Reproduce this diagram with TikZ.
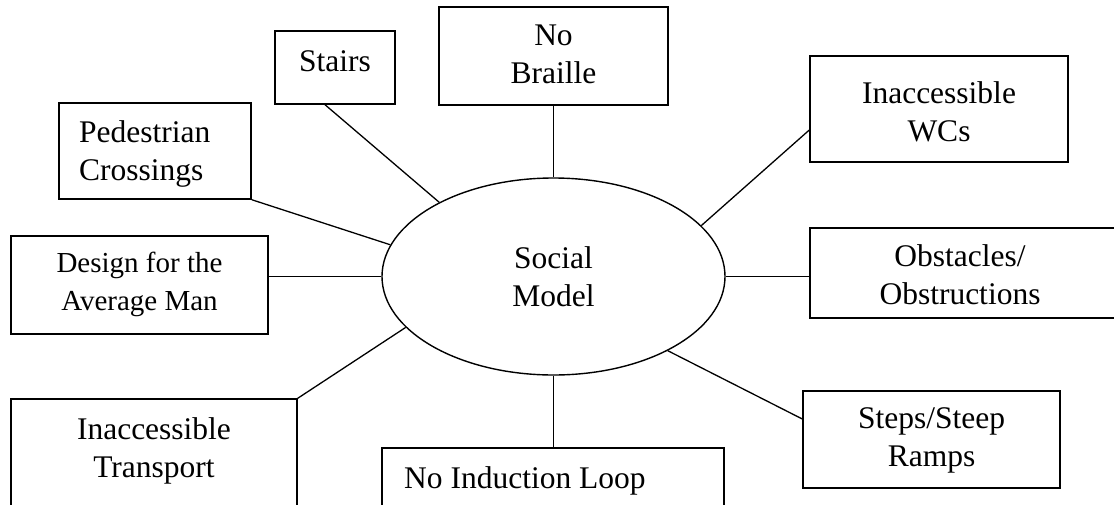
\documentclass[tikz,border=0pt]{standalone}
\usepackage{fontspec}
\setmainfont{Liberation Serif}
\usetikzlibrary{shapes.geometric,calc}
\begin{document}
\begin{tikzpicture}[x=1pt,y=-1pt,
  box/.style={draw, line width=1.4pt, inner sep=0pt},
  conn/.style={draw, line width=1.3pt},
  txt/.style={inner sep=0pt, font=\fontsize{31.5}{37.5}\selectfont, align=center, anchor=base},
  smalltxt/.style={txt, font=\fontsize{29}{38}\selectfont}]
\useasboundingbox (0,0) rectangle (1114,504);
\clip (0,0) rectangle (1114,504);
% central ellipse
\node[ellipse, draw, line width=1.4pt, minimum width=343pt, minimum height=197pt, inner sep=0pt,
      font=\fontsize{31.5}{37.5}\selectfont, align=center] (sm) at (553.5,276.5) {Social\\Model};
% boxes
\node[box, minimum width=120pt, minimum height=73pt] (stairs) at (335,67.5) {};
\node[box, minimum width=229pt, minimum height=98pt] (braille) at (553.5,56) {};
\node[box, minimum width=192pt, minimum height=96pt] (ped) at (155,151) {};
\node[box, minimum width=258pt, minimum height=106pt] (wcs) at (939,109) {};
\node[box, minimum width=257pt, minimum height=98pt] (design) at (139.5,285) {};
\node[box, minimum width=320pt, minimum height=90pt] (obs) at (970,273) {};
\node[box, minimum width=286pt, minimum height=121pt] (trans) at (154,459.5) {};
\node[box, minimum width=342pt, minimum height=72pt] (ind) at (553,484) {};
\node[box, minimum width=257pt, minimum height=97pt] (steps) at (931.5,439.5) {};
% texts (base anchor = baseline of the last line)
\node[txt] (stairsL) at (335,71) {Stairs};
\node[txt] (brailleL) at (553.5,83) {No\\Braille};
\node[txt, align=left, anchor=base west] (pedL) at (79,180) {Pedestrian\\Crossings};
\node[txt] (wcsL) at (939,141) {Inaccessible\\WCs};
\node[smalltxt] (designL) at (139.5,310) {Design for the\\Average Man};
\node[txt] (obsL) at (960,304) {Obstacles/\\Obstructions};
\node[txt] (transL) at (154,477) {Inaccessible\\Transport};
\node[txt, anchor=base west] (indL) at (404,488) {No Induction Loop};
\node[txt] (stepsL) at (931.5,466) {Steps/Steep\\Ramps};
% connectors
\draw[conn] ($(stairs.south)+(-10,0)$) -- (sm.147.2);
\draw[conn] (braille.south) -- (sm.north);
\draw[conn] ($(wcs.west)+(0,21)$) -- (sm.19.7);
\draw[conn] (ped.south east) -- (sm.169.4);
\draw[conn] (sm.west) -- (sm.west -| design.east);
\draw[conn] (sm.east) -- (sm.east -| obs.west);
\draw[conn] (trans.north east) -- (sm.199.3);
\draw[conn] (sm.south) -- (sm.south |- ind.north);
\draw[conn] ($(steps.west)+(0,-20.5)$) -- (sm.327.3);
\end{tikzpicture}
\end{document}
